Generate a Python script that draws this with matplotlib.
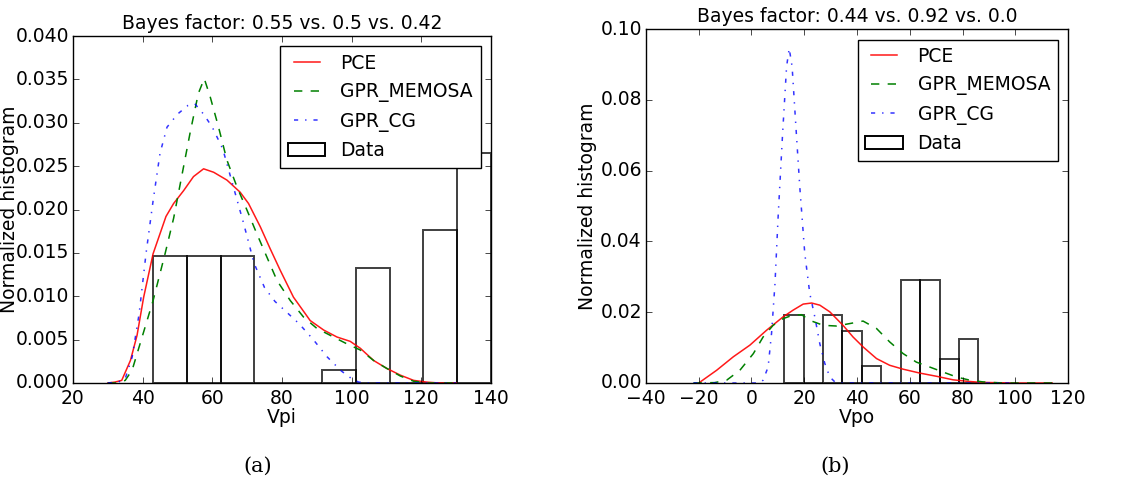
import matplotlib
matplotlib.use("Agg")
import matplotlib.pyplot as plt
from matplotlib.patches import Patch

plt.style.use('classic')
plt.rcParams['figure.facecolor'] = 'white'
plt.rcParams['savefig.facecolor'] = 'white'
plt.rcParams['font.size'] = 13.5
plt.rcParams['ytick.major.pad'] = 3

# ---- panel (a): Vpi ----
vpi_edges = [43.0, 52.7, 62.4, 72.1, 81.8, 91.5, 101.2, 110.9, 120.6, 130.3, 140.0]
vpi_hist = [0.0147, 0.0147, 0.0147, 0.0, 0.0, 0.0015, 0.0133, 0.0, 0.0177, 0.0265]

vpi_pce_x = [30, 32, 34, 36.5, 38.4, 40.3, 43, 46.7, 48.9, 51.8, 54.6, 57.5, 60.4, 64.2, 68,
             70.4, 73.8, 76.6, 79.5, 83.3, 88.1, 92, 95.8, 99.6, 102.5, 106.3, 110, 114,
             117.8, 121.6, 125, 130]
vpi_pce_y = [0.0, 0.0001, 0.0003, 0.0026, 0.0055, 0.0099, 0.0149, 0.0192, 0.0207, 0.0222,
             0.0238, 0.0247, 0.0243, 0.0234, 0.022, 0.0207, 0.018, 0.0155, 0.013, 0.0099,
             0.0072, 0.0061, 0.0053, 0.0048, 0.004, 0.0026, 0.0017, 0.0009, 0.0003, 0.0001,
             0.0, 0.0]

vpi_memosa_x = [30, 33, 35, 37, 40, 43, 46.5, 48.9, 51.3, 53.7, 56, 57.7, 59.4, 61.8, 64.2,
                67.1, 70, 72.8, 75.7, 78.6, 82.4, 86.2, 90, 94.8, 98.7, 102.5, 106.3, 110,
                114, 117.8, 122, 130]
vpi_memosa_y = [0.0, 0.0, 0.0003, 0.0015, 0.0055, 0.0095, 0.015, 0.019, 0.024, 0.029, 0.0334,
                0.0351, 0.033, 0.0295, 0.0257, 0.0226, 0.0199, 0.0172, 0.0145, 0.0118, 0.0095,
                0.0076, 0.0063, 0.0053, 0.0045, 0.0038, 0.0026, 0.0017, 0.0008, 0.0002, 0.0,
                0.0]

vpi_cg_x = [30, 33, 35, 37, 39, 41, 43, 45, 47, 50, 53, 55, 57.5, 60, 63, 66, 69, 72, 75,
            78, 81, 85, 89, 93, 97, 100, 102, 105, 130]
vpi_cg_y = [0.0, 0.0001, 0.0005, 0.003, 0.008, 0.015, 0.021, 0.0265, 0.0295, 0.031, 0.032,
            0.0322, 0.031, 0.0295, 0.027, 0.0227, 0.0184, 0.0138, 0.011, 0.0094, 0.0083,
            0.0068, 0.005, 0.003, 0.0014, 0.0005, 0.0001, 0.0, 0.0]

# ---- panel (b): Vpo ----
vpo_edges = [12.4, 19.8, 27.1, 34.5, 41.9, 49.2, 56.6, 64.0, 71.3, 78.7, 86.0]
vpo_hist = [0.0193, 0.0, 0.0193, 0.0146, 0.0047, 0.0, 0.0292, 0.0292, 0.0067, 0.0124]

vpo_pce_x = [-20, -13.2, -6.9, -0.6, 5.7, 12, 15.8, 19.6, 22.8, 25.9, 29.7, 34.7, 38.5, 42.3,
             47.4, 52.4, 57.5, 63.8, 70.1, 76.4, 81.5, 86.5, 91.6, 100, 114]
vpo_pce_y = [0.0, 0.0036, 0.0074, 0.0107, 0.0149, 0.0187, 0.0206, 0.0223, 0.0226, 0.022,
             0.0201, 0.0163, 0.013, 0.0102, 0.0069, 0.005, 0.0039, 0.0028, 0.0019, 0.0009,
             0.0005, 0.0002, 0.0001, 0.0, 0.0]

vpo_memosa_x = [-22, -14, -9.4, -4.4, 0.7, 4.4, 8.2, 12, 15.8, 19, 22.1, 27.2, 32.2, 37.3,
                42.3, 47.4, 52.4, 57.5, 62.5, 67.6, 72.6, 77.7, 82.7, 87.8, 95, 114]
vpo_memosa_y = [0.0, 0.0001, 0.0008, 0.0036, 0.0083, 0.013, 0.0163, 0.0182, 0.0192, 0.0193,
                0.0177, 0.0163, 0.0161, 0.0168, 0.0175, 0.0154, 0.0116, 0.0083, 0.0059, 0.0045,
                0.0031, 0.0017, 0.0008, 0.0003, 0.0, 0.0]

vpo_cg_x = [-22, 3, 4.4, 6.3, 7.6, 8.9, 10.1, 11.8, 13.3, 14.3, 15.4, 17, 18.3, 20.2, 22.1,
            24, 25.9, 27.8, 29.7, 31.6, 34, 100]
vpo_cg_y = [0.0, 0.0, 0.0008, 0.0045, 0.014, 0.028, 0.047, 0.0706, 0.0894, 0.0946, 0.0894,
            0.0706, 0.0555, 0.0366, 0.0253, 0.0187, 0.0111, 0.0055, 0.0017, 0.0003, 0.0, 0.0]

labels = ['PCE', 'GPR_MEMOSA', 'GPR_CG', 'Data']

fig = plt.figure(figsize=(11.26, 4.95), dpi=100)
ax1 = fig.add_axes([0.0648, 0.2263, 0.3712, 0.7007])
ax2 = fig.add_axes([0.5737, 0.2263, 0.3748, 0.7147])


def panel(ax, edges, hist, curves, title, xlabel, xlim, ylim, yticks):
    widths = [edges[i + 1] - edges[i] for i in range(len(hist))]
    ax.bar(edges[:-1], hist, width=widths, align='edge', fill=False,
           edgecolor='k', linewidth=1.4, alpha=0.75)
    (px, py), (mx, my), (cx, cy) = curves
    ax.plot(px, py, '-', color='r', lw=1.1, alpha=0.9, label=labels[0])
    ax.plot(mx, my, '--', color='g', lw=1.1, label=labels[1])
    ax.plot(cx, cy, '-.', color='b', lw=1.1, alpha=0.8, label=labels[2])
    ax.set_xlim(*xlim)
    ax.set_ylim(*ylim)
    ax.set_yticks(yticks)
    ax.set_title(title, fontsize=13.5)
    ax.set_xlabel(xlabel, fontsize=13.5, labelpad=0)
    ax.set_ylabel('Normalized histogram', fontsize=13.5, labelpad=2)
    handles, _ = ax.get_legend_handles_labels()
    handles.append(Patch(facecolor='white', edgecolor='k', linewidth=1.4))
    ax.legend(handles, labels, loc='upper right', fontsize=13.5, borderaxespad=0.55)


panel(ax1, vpi_edges, vpi_hist,
      [(vpi_pce_x, vpi_pce_y), (vpi_memosa_x, vpi_memosa_y), (vpi_cg_x, vpi_cg_y)],
      'Bayes factor: 0.55 vs. 0.5 vs. 0.42', 'Vpi', (20, 140), (0, 0.04),
      [0.0, 0.005, 0.01, 0.015, 0.02, 0.025, 0.03, 0.035, 0.04])
ax1.set_yticklabels(['%.3f' % v for v in ax1.get_yticks()])
ax1.yaxis.set_label_coords(-0.128, 0.5)

panel(ax2, vpo_edges, vpo_hist,
      [(vpo_pce_x, vpo_pce_y), (vpo_memosa_x, vpo_memosa_y), (vpo_cg_x, vpo_cg_y)],
      'Bayes factor: 0.44 vs. 0.92 vs. 0.0', 'Vpo', (-40, 120), (0, 0.10),
      [0.0, 0.02, 0.04, 0.06, 0.08, 0.10])
ax2.set_yticklabels(['%.2f' % v for v in ax2.get_yticks()])

fig.text(0.229, 0.058, '(a)', ha='center', va='center', fontsize=15, family='DejaVu Serif')
fig.text(0.742, 0.058, '(b)', ha='center', va='center', fontsize=15, family='DejaVu Serif')

fig.savefig('out.png', dpi=100)
